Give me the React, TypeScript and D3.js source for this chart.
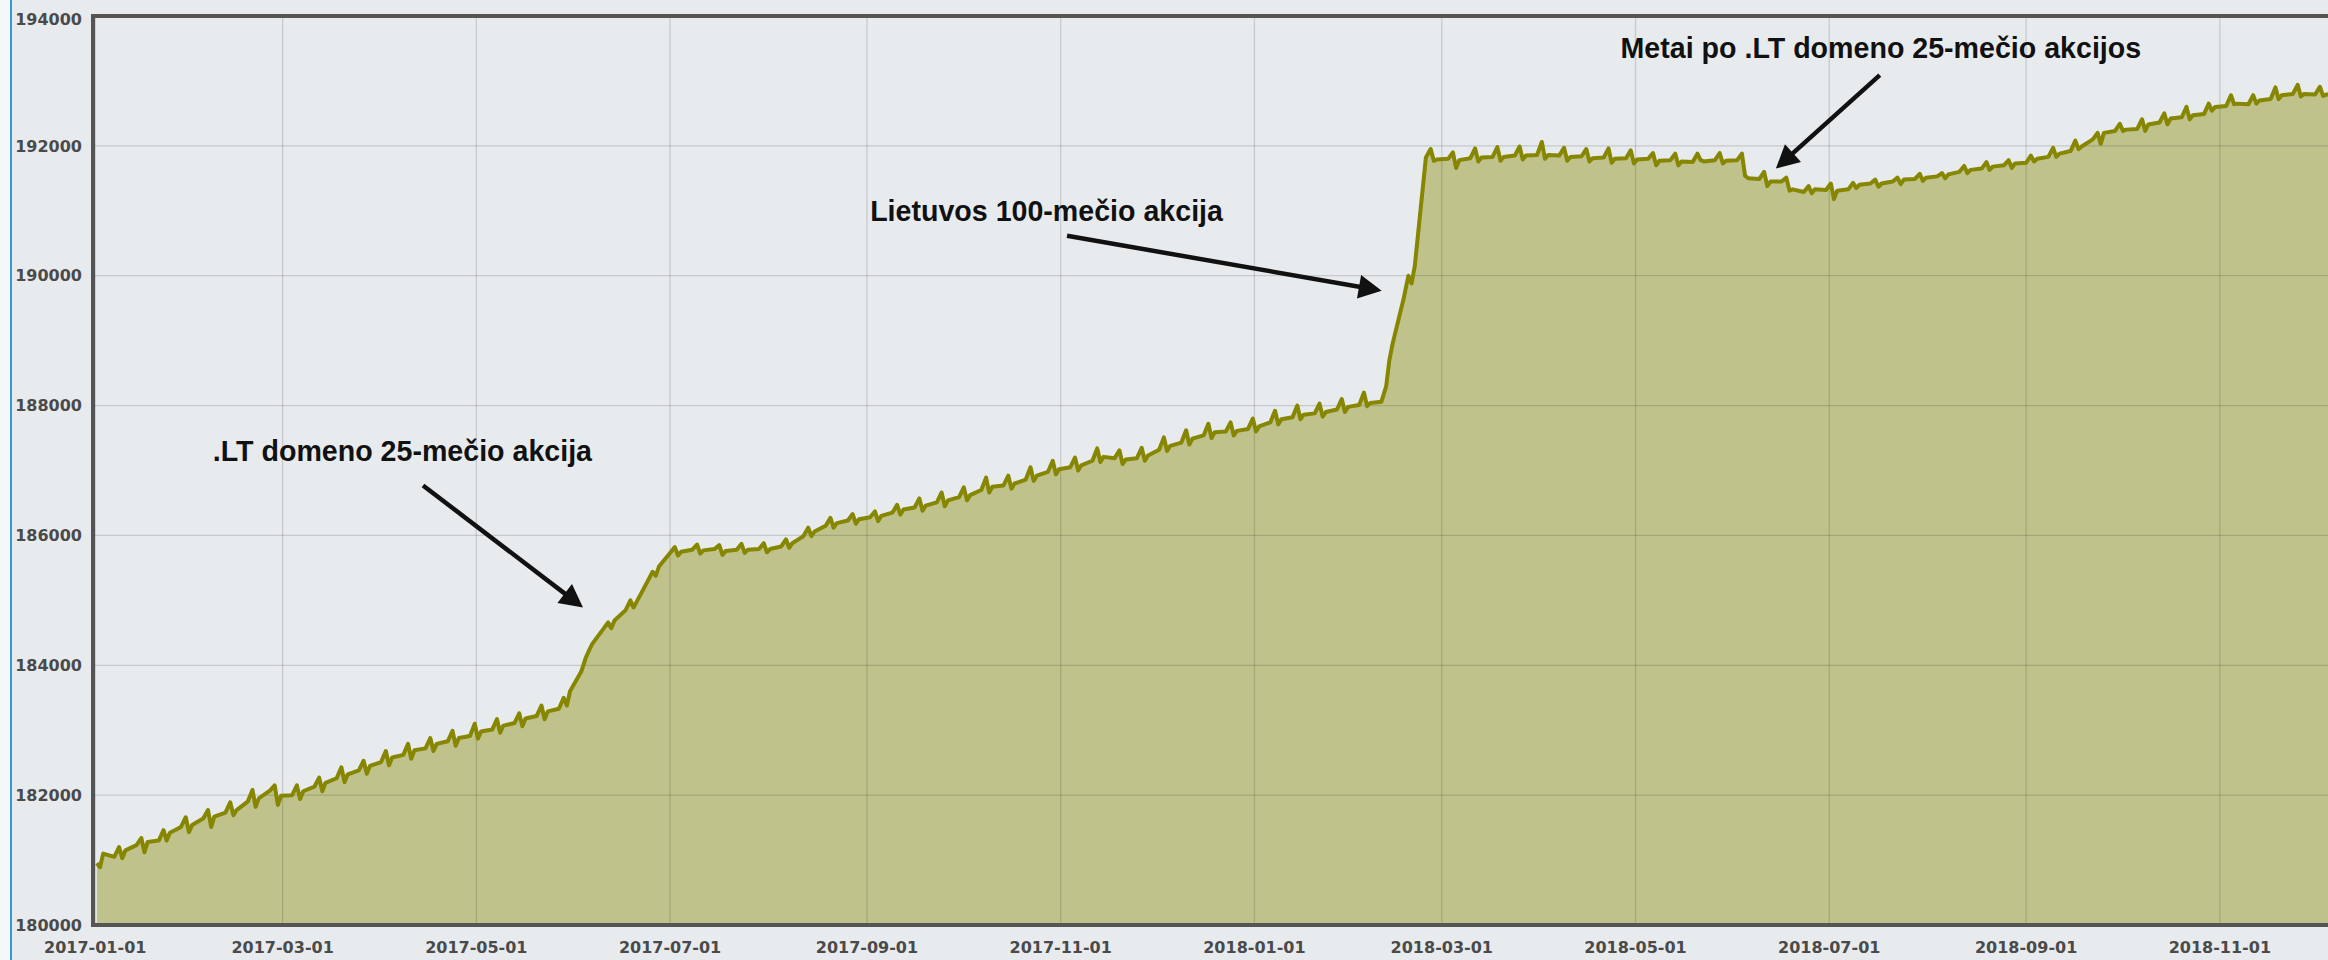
import { useEffect, useRef } from "react";
import * as d3 from "d3";

// Weekly rows starting on Sunday 2017-01-01.
// Each row: [spike, dip after spike, level after dip, level before next spike]
const firstWeek = "2017-01-01";

const weeks2017: number[][] = [
  [180950, 180890, 181100, 181050],
  [181200, 181030, 181150, 181230],
  [181340, 181120, 181280, 181300],
  [181460, 181300, 181420, 181510],
  [181660, 181430, 181540, 181640],
  [181770, 181510, 181670, 181730],
  [181890, 181690, 181770, 181900],
  [182080, 181820, 181950, 182070],
  [182150, 181850, 181990, 182000],
  [182150, 181940, 182060, 182130],
  [182270, 182060, 182190, 182260],
  [182430, 182200, 182320, 182380],
  [182530, 182330, 182450, 182510],
  [182680, 182460, 182580, 182620],
  [182790, 182560, 182690, 182720],
  [182880, 182680, 182790, 182830],
  [182990, 182760, 182880, 182910],
  [183100, 182870, 182980, 183010],
  [183170, 182960, 183070, 183110],
  [183260, 183060, 183180, 183220],
  [183380, 183170, 183290, 183330],
  [183500, 183380, 183600, 183900],
  [184120, 184230, 184330, 184560],
  [184660, 184570, 184690, 184850],
  [185000, 184890, 184980, 185300],
  [185440, 185380, 185520, 185730],
  [185820, 185690, 185750, 185780],
  [185860, 185720, 185770, 185790],
  [185850, 185700, 185760, 185780],
  [185870, 185730, 185780, 185790],
  [185880, 185740, 185790, 185830],
  [185940, 185810, 185880, 185990],
  [186120, 185990, 186060, 186150],
  [186270, 186120, 186190, 186230],
  [186330, 186180, 186250, 186280],
  [186370, 186220, 186300, 186350],
  [186470, 186320, 186400, 186430],
  [186570, 186380, 186460, 186510],
  [186660, 186450, 186540, 186590],
  [186740, 186540, 186620, 186700],
  [186890, 186660, 186750, 186770],
  [186920, 186720, 186800, 186860],
  [187050, 186840, 186920, 186980],
  [187150, 186940, 187020, 187050],
  [187200, 187000, 187080, 187150],
  [187340, 187130, 187210, 187190],
  [187310, 187100, 187170, 187190],
  [187350, 187150, 187230, 187320],
  [187510, 187300, 187380, 187430],
  [187620, 187400, 187490, 187540],
  [187720, 187500, 187590, 187600],
  [187740, 187540, 187610, 187640],
];

const weeks2018: number[][] = [
  [187800, 187600, 187680, 187740],
  [187920, 187710, 187790, 187820],
  [188000, 187790, 187860, 187880],
  [188030, 187830, 187900, 187940],
  [188100, 187900, 187980, 188010],
  [188200, 187990, 188040, 188060],
  [188300, 188700, 188950, 189650],
  [190000, 189880, 190150, 191820],
  [191950, 191770, 191790, 191800],
  [191900, 191660, 191780, 191810],
  [191960, 191760, 191820, 191830],
  [191980, 191770, 191830, 191850],
  [191990, 191790, 191850, 191860],
  [192060, 191800, 191860, 191850],
  [191970, 191770, 191830, 191840],
  [191950, 191760, 191810, 191820],
  [191960, 191740, 191800, 191810],
  [191930, 191730, 191790, 191800],
  [191890, 191700, 191770, 191780],
  [191880, 191700, 191760, 191750],
  [191880, 191780, 191760, 191780],
  [191890, 191730, 191770, 191780],
  [191880, 191540, 191500, 191490],
  [191600, 191380, 191450, 191450],
  [191510, 191310, 191330, 191290],
  [191380, 191270, 191330, 191320],
  [191420, 191180, 191310, 191330],
  [191430, 191350, 191400, 191420],
  [191480, 191370, 191420, 191450],
  [191510, 191410, 191480, 191490],
  [191570, 191460, 191510, 191530],
  [191580, 191500, 191560, 191600],
  [191690, 191580, 191630, 191650],
  [191750, 191630, 191680, 191700],
  [191780, 191660, 191730, 191740],
  [191850, 191760, 191800, 191830],
  [191970, 191830, 191880, 191920],
  [192080, 191950, 191990, 192100],
  [192200, 192030, 192200, 192230],
  [192340, 192230, 192250, 192260],
  [192410, 192230, 192330, 192360],
  [192500, 192330, 192420, 192440],
  [192600, 192410, 192470, 192490],
  [192650, 192540, 192600, 192615],
  [192780, 192640, 192650, 192640],
  [192780, 192650, 192700, 192720],
  [192900, 192720, 192780, 192800],
  [192940, 192760, 192800, 192790],
  [192910, 192770, 192790, 192800],
];

const yTicks = [180000, 182000, 184000, 186000, 188000, 190000, 192000, 194000];

const xTicks = [
  "2017-01-01", "2017-03-01", "2017-05-01", "2017-07-01", "2017-09-01", "2017-11-01",
  "2018-01-01", "2018-03-01", "2018-05-01", "2018-07-01", "2018-09-01", "2018-11-01",
];

const annotations = [
  {
    label: ".LT domeno 25-mečio akcija",
    at: ["2017-02-07T00:00", 187150],
    from: ["2017-04-14T05:00", 186770],
    to: ["2017-06-03T14:00", 184890],
  },
  {
    label: "Lietuvos 100-mečio akcija",
    at: ["2017-09-02T00:00", 190850],
    from: ["2017-11-03T00:00", 190615],
    to: ["2018-02-10T02:00", 189770],
  },
  {
    label: "Metai po .LT domeno 25-mečio akcijos",
    at: ["2018-04-26T07:00", 193350],
    from: ["2018-07-16T22:00", 193090],
    to: ["2018-06-14T05:00", 191650],
  },
];

const DAY = 864e5;
const parse = (s: string) =>
  new Date(s.length === 10 ? `${s}T00:00:00Z` : `${s}:00Z`);

export default function App() {
  const svgRef = useRef<SVGSVGElement>(null);

  useEffect(() => {
    if (!svgRef.current) return;
    const svg = d3.select(svgRef.current);
    svg.selectAll("*").remove();

    const width = 2328;
    const height = 960;
    const left = 93;
    const top = 16;
    const bottom = 925;

    // point positions inside each week (days after the week start)
    const offsets = [0.5, 1.5, 2.5, 6];
    const start = parse(firstWeek);
    const points = [...weeks2017, ...weeks2018].flatMap((wk, w) =>
      wk.map((v, i) => ({
        date: new Date(+start + (w * 7 + offsets[i]) * DAY),
        value: v,
      }))
    );

    const x = d3
      .scaleUtc()
      .domain([new Date(Date.UTC(2016, 11, 31, 7)), new Date(Date.UTC(2018, 11, 6))])
      .range([left, 2331]);
    const y = d3.scaleLinear().domain([180000, 194000]).range([bottom, top]);

    // page background
    svg.append("rect").attr("width", width).attr("height", height).attr("fill", "#e8ebee");
    svg.append("rect").attr("width", 10).attr("height", height).attr("fill", "#f5f8fa");
    svg
      .append("line")
      .attr("x1", 11)
      .attr("x2", 11)
      .attr("y1", 0)
      .attr("y2", height)
      .attr("stroke", "#2f9bd5")
      .attr("stroke-width", 2);

    svg
      .append("defs")
      .append("clipPath")
      .attr("id", "plotClip")
      .append("rect")
      .attr("x", left)
      .attr("y", top)
      .attr("width", width - left)
      .attr("height", bottom - top);

    const plot = svg.append("g").attr("clip-path", "url(#plotClip)");

    const area = d3
      .area<{ date: Date; value: number }>()
      .x((d) => x(d.date))
      .y0(y(180000))
      .y1((d) => y(d.value));

    const line = d3
      .line<{ date: Date; value: number }>()
      .x((d) => x(d.date))
      .y((d) => y(d.value));

    plot.append("path").datum(points).attr("fill", "#bfc38b").attr("d", area);

    // grid
    plot
      .selectAll(".gy")
      .data(yTicks)
      .join("line")
      .attr("x1", left)
      .attr("x2", width)
      .attr("y1", (d) => y(d))
      .attr("y2", (d) => y(d))
      .attr("stroke", "rgba(0,0,0,0.14)")
      .attr("stroke-width", 1.3);

    plot
      .selectAll(".gx")
      .data(xTicks)
      .join("line")
      .attr("x1", (d) => x(parse(d)))
      .attr("x2", (d) => x(parse(d)))
      .attr("y1", top)
      .attr("y2", bottom)
      .attr("stroke", "rgba(0,0,0,0.14)")
      .attr("stroke-width", 1.3);

    plot
      .append("path")
      .datum(points)
      .attr("fill", "none")
      .attr("stroke", "#868600")
      .attr("stroke-width", 4)
      .attr("stroke-linejoin", "round")
      .attr("d", line);

    // frame
    svg
      .append("path")
      .attr("d", `M${width + 5},${top} H${left} V${bottom} H${width + 5}`)
      .attr("fill", "none")
      .attr("stroke", "#555555")
      .attr("stroke-width", 4);

    // tick labels
    svg
      .selectAll(".yl")
      .data(yTicks)
      .join("text")
      .attr("x", 82)
      .attr("y", (d) => Math.max(y(d), 19))
      .attr("dy", "0.36em")
      .attr("text-anchor", "end")
      .style("font-family", "'DejaVu Sans', Verdana, sans-serif")
      .style("font-weight", "bold")
      .style("font-size", "16px")
      .style("fill", "#4a4a4a")
      .text((d) => String(d));

    svg
      .selectAll(".xl")
      .data(xTicks)
      .join("text")
      .attr("x", (d) => x(parse(d)))
      .attr("y", 947)
      .attr("dy", "0.36em")
      .attr("text-anchor", "middle")
      .style("font-family", "'DejaVu Sans', Verdana, sans-serif")
      .style("font-weight", "bold")
      .style("font-size", "16px")
      .style("fill", "#4a4a4a")
      .text((d) => d);

    // annotations
    annotations.forEach((a) => {
      svg
        .append("text")
        .attr("x", x(parse(a.at[0] as string)))
        .attr("y", y(a.at[1] as number))
        .style("font-family", "'Liberation Sans', Arial, sans-serif")
        .style("font-weight", "bold")
        .style("font-size", "28.6px")
        .style("fill", "#111111")
        .text(a.label);

      const x1 = x(parse(a.from[0] as string));
      const y1 = y(a.from[1] as number);
      const x2 = x(parse(a.to[0] as string));
      const y2 = y(a.to[1] as number);
      const ang = Math.atan2(y2 - y1, x2 - x1);
      const headLen = 23;
      const half = 12;
      const bx = x2 - headLen * Math.cos(ang);
      const by = y2 - headLen * Math.sin(ang);

      svg
        .append("line")
        .attr("x1", x1)
        .attr("y1", y1)
        .attr("x2", bx + 3 * Math.cos(ang))
        .attr("y2", by + 3 * Math.sin(ang))
        .attr("stroke", "#111111")
        .attr("stroke-width", 4.5);

      const px = -Math.sin(ang);
      const py = Math.cos(ang);
      svg
        .append("path")
        .attr(
          "d",
          `M${x2},${y2} L${bx + half * px},${by + half * py} L${bx - half * px},${by - half * py} Z`
        )
        .attr("fill", "#111111");
    });
  }, []);

  return (
    <svg
      ref={svgRef}
      width={2328}
      height={960}
      style={{ position: "absolute", left: 0, top: 0, display: "block" }}
    />
  );
}
